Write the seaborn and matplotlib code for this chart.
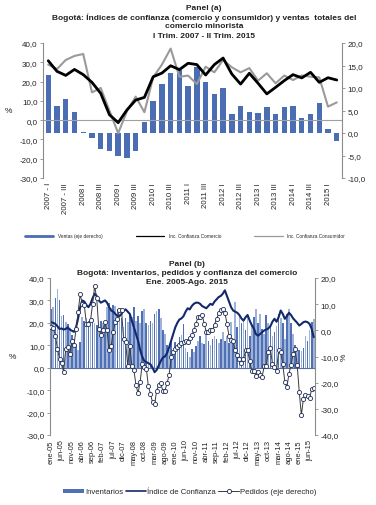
import matplotlib
matplotlib.use('Agg')
import matplotlib.pyplot as plt
import seaborn as sns
import pandas as pd
import numpy as np
from matplotlib.ticker import FuncFormatter, FixedLocator
from matplotlib.lines import Line2D
from matplotlib.patches import Patch

sns.set_theme(style='white')
plt.rcParams['font.family'] = ['Liberation Sans', 'DejaVu Sans']

# ---------------- Panel (a) data ----------------
quarters_a = ["2007 - I", "2007 - II", "2007 - III", "2007 - IV",
              "2008 I", "2008 II", "2008 III", "2008 IV",
              "2009 I", "2009 II", "2009 III", "2009 IV",
              "2010 I", "2010 II", "2010 III", "2010 IV",
              "2011 I", "2011 II", "2011 III", "2011 IV",
              "2012 I", "2012 II", "2012 III", "2012 IV",
              "2013 I", "2013 II", "2013 III", "2013 IV",
              "2014 I", "2014 II", "2014 III", "2014 IV",
              "2015 I", "2015 II"]
ventas = [12.9, 6.1, 7.5, 4.7, 0.3, -1.0, -3.6, -4.0, -5.0, -5.6, -4.0, 2.4,
          7.1, 10.9, 13.3, 14.0, 10.5, 14.6, 11.4, 8.6, 10.1, 4.3, 6.1, 4.7,
          4.4, 5.8, 4.3, 5.8, 6.0, 3.3, 4.3, 6.6, 0.9, -1.7]
conf_comercio = [30.8, 25.3, 23.2, 26.3, 23.6, 19.6, 13.9, 2.8, -1.3, 5.3, 10.4, 11.8,
                 22.5, 24.4, 28.2, 26.2, 29.5, 28.8, 23.4, 28.8, 32.2, 23.9, 18.7, 24.3,
                 19.1, 13.6, 17.0, 20.5, 23.6, 21.9, 24.8, 19.6, 22.0, 20.8]
conf_consumidor = [28.8, 26.5, 31.2, 33.3, 34.3, 14.4, 16.7, 4.9, -6.8, 4.6, 12.2, 4.1,
                   22.2, 28.8, 37.1, 22.5, 23.1, 18.7, 27.7, 24.8, 31.2, 27.4, 24.8, 27.0,
                   20.5, 24.3, 19.1, 23.1, 20.8, 23.2, 22.5, 22.2, 7.0, 9.2]

# ---------------- Panel (b) data ----------------
meses = ['ene', 'feb', 'mar', 'abr', 'may', 'jun', 'jul', 'ago', 'sep', 'oct', 'nov', 'dic']
anios = ['05', '06', '07', '08', '09', '10', '11', '12', '13', '14', '15']
months_b = [f"{m}-{a}" for a in anios for m in meses][:128]
tick_labels_b = ["ene-05", "jun-05", "nov-05", "abr-06", "sep-06", "feb-07", "jul-07",
                 "dic-07", "may-08", "oct-08", "mar-09", "ago-09", "ene-10", "jun-10",
                 "nov-10", "abr-11", "sep-11", "feb-12", "jul-12", "dic-12", "may-13",
                 "oct-13", "mar-14", "ago-14", "ene-15", "jun-15"]
inventarios = [26, 27, 31, 35, 30, 23, 23.5, 20.5, 19.5, 17.5, 14.5, 13,
               10, 8, 11.5, 22.5, 21, 22, 21, 19.5, 22, 20, 19, 17,
               21, 20, 19, 27, 29, 26.5, 28, 27.5, 26, 24, 22, 18,
               22, 20.5, 24, 22.5, 27, 21, 23, 20, 25.5, 26, 20, 19,
               21, 20, 24, 25.5, 26, 22, 17, 15, 10, 7.8, 11.5, 7.8,
               11.5, 7.8, 13.7, 14.5, 19.5, 9, 6.9, 4.6, 8.4, 7, 9.9, 12,
               14.3, 11, 10.6, 15.8, 12, 10, 13, 14, 12.8, 11, 12.8, 15.8,
               12, 14, 11, 20.3, 13, 29.3, 18, 24, 20, 21, 16.6, 23.3,
               14, 18.8, 22.5, 26.3, 20, 24, 17.3, 15, 23.3, 20, 18.8, 14,
               16, 18.8, 24, 22, 20, 12.8, 24, 26.3, 20, 15, 10, 8.4,
               8, 7.6, 9, 14.3, 12, 16.6, 20.3, 21.8]
indice_conf = [20.3, 20, 19.5, 18.5, 17.3, 17.5, 17, 17.3, 18, 17, 16.5, 16,
               18, 22, 27, 30, 29.5, 28, 27, 28.5, 31, 33, 32, 30,
               29, 29.5, 30, 29, 27, 25.5, 25, 24, 23, 23, 24, 25.5,
               26, 25, 24, 21, 18, 15, 12, 8, 5, 3, 2.5, 2,
               1.5, 0, -2, -1, 1, 3, 4.5, 5, 6.5, 9, 12, 15,
               18, 20, 21.5, 22, 23, 25, 26.5, 26, 27.5, 28.5, 29, 29,
               28.5, 27.5, 27, 26.5, 27.5, 28.5, 28, 29.5, 30.5, 31.5, 32, 33,
               34.5, 32, 29.5, 27, 25.5, 25, 24.5, 23.5, 22, 21, 22.5, 23.5,
               21, 19, 17.5, 15, 14.3, 15, 15.8, 16.6, 17, 17.5, 18.5, 20.5,
               21.8, 20.5, 22.5, 25.5, 24, 21.8, 23, 24.5, 23.5, 22, 21, 20,
               18.8, 19.5, 20.3, 20.6, 20.3, 19.5, 17.3, 13.6]
pedidos = [1.3, 1.0, -2.0, -7.0, -11.1, -12.4, -16.0, -7.0, -6.4, -9.1, -4.0, -5.5,
           0.4, 7.0, 13.7, 10.2, 9.5, 2.6, 2.6, 3.8, 9.9, 17.0, 12.2, 0.6,
           -1.9, 0.0, 3.2, 0.0, -7.7, -5.8, -0.6, 3.2, 4.5, 7.7, 7.7, -3.5,
           -4.5, -13.6, -6.0, -13.6, -15.3, -21.0, -24.0, -19.8, -12.9, -14.0, -14.6, -21.4,
           -24.3, -27.5, -28.3, -23.0, -21.0, -20.3, -23.2, -23.0, -20.3, -17.2, -10.3, -8.4,
           -7.2, -6.5, -5.5, -5.0, -4.5, -4.0, -4.5, -2.9, -1.9, 0.0, 2.5, 5.1,
           5.1, 6.0, 2.5, -0.6, -0.6, 0.0, 0.0, 2.2, 4.5, 6.5, 7.7, 8.1,
           6.8, 2.6, -2.2, -3.8, -4.2, -7.7, -9.6, -11.1, -12.4, -10.9, -7.7, -7.7,
           -11.9, -15.4, -15.4, -17.3, -16.0, -17.0, -17.9, -13.7, -13.7, -8.1, -6.8, -12.8,
           -14.1, -15.4, -7.7, -8.3, -13.0, -19.6, -21.8, -16.6, -13.2, -9.0, -7.0, -13.4,
           -23.7, -32.4, -26.2, -24.7, -25.2, -26.0, -22.4, -22.0]

fmt = FuncFormatter(lambda v, p: f"{v:.1f}".replace('.', ','))
TXT = '#222222'
SPINE = '#8c8c8c'
TFS = 6.0

fig = plt.figure(figsize=(3.76, 5.06), dpi=100)

def style_axes(ax_l, ax_r):
    for a in (ax_l, ax_r):
        for s in a.spines.values():
            s.set_visible(False)
    ax_l.spines['left'].set_visible(True)
    ax_l.spines['left'].set_color(SPINE)
    ax_l.spines['left'].set_linewidth(0.8)
    ax_r.spines['right'].set_visible(True)
    ax_r.spines['right'].set_color(SPINE)
    ax_r.spines['right'].set_linewidth(0.8)
    ax_l.tick_params(axis='y', which='both', left=True, right=False, length=2.5, width=0.6,
                     color=SPINE, labelsize=5.8, labelcolor=TXT, pad=1.5)
    ax_r.tick_params(axis='y', which='both', right=True, left=False, length=2.5, width=0.6,
                     color=SPINE, labelsize=5.8, labelcolor=TXT, pad=1.5)
    ax_l.yaxis.set_major_formatter(fmt)
    ax_r.yaxis.set_major_formatter(fmt)
    ax_l.grid(False); ax_r.grid(False)

# ================= Panel (a) =================
axA = fig.add_axes([43/376, 1 - 179/506, 299/376, 135/506])
axA2 = axA.twinx()
df_a = pd.DataFrame({'trim': quarters_a, 'ventas': ventas,
                     'comercio': conf_comercio, 'consumidor': conf_consumidor,
                     'pos': np.arange(len(quarters_a))})
sns.barplot(data=df_a, x='trim', y='ventas', ax=axA2, color='#4a6db3', width=0.62,
            saturation=1, order=quarters_a, linewidth=0, edgecolor='none')
axA2.set_ylim(-10, 20)
axA2.yaxis.set_major_locator(FixedLocator([-10, -5, 0, 5, 10, 15, 20]))

sns.lineplot(data=df_a, x='pos', y='consumidor', ax=axA, color='#9a9a9a', lw=1.5)
sns.lineplot(data=df_a, x='pos', y='comercio', ax=axA, color='#000000', lw=2.0)
axA.axhline(0, color='#a0a0a0', lw=0.8, zorder=0.5)
axA.set_ylim(-30, 40)
axA.yaxis.set_major_locator(FixedLocator(list(range(-30, 41, 10))))
axA.set_xlim(-0.6, len(quarters_a) - 0.4)
axA.set_zorder(axA2.get_zorder() + 1)
axA.patch.set_visible(False)
style_axes(axA, axA2)
axA.set_xticks(np.arange(0, len(quarters_a), 2))
axA.set_xticklabels(quarters_a[::2], rotation=90, fontsize=5.6, color=TXT)
axA.tick_params(axis='x', length=0, pad=3)
axA2.tick_params(axis='x', length=0, labelbottom=False)
axA.set_xlabel(''); axA2.set_xlabel('')
axA.set_ylabel('%', rotation=0, fontsize=6, color=TXT, labelpad=8, va='center')
axA2.set_ylabel('')

fig.text(204/376, 1 - 9/506, 'Panel (a)', ha='center', va='center',
         fontsize=TFS, fontweight='bold', color=TXT)
fig.text(204/376, 1 - 18/506,
         'Bogotá: Índices de confianza (comercio y consumidor) y ventas  totales del',
         ha='center', va='center', fontsize=TFS, fontweight='bold', color=TXT)
fig.text(204/376, 1 - 27/506, 'comercio minorista', ha='center', va='center',
         fontsize=TFS, fontweight='bold', color=TXT)
fig.text(204/376, 1 - 36/506, 'I Trim. 2007 - II Trim. 2015', ha='center', va='center',
         fontsize=TFS, fontweight='bold', color=TXT)

hA = [Line2D([], [], color='#4a6db3', lw=2.0),
      Line2D([], [], color='#000000', lw=0.9),
      Line2D([], [], color='#9a9a9a', lw=0.9)]
fig.legend(hA, ['Ventas (eje derecho)', 'Inc. Confianza Comercio', 'Inc. Confianza Consumidor'],
           loc='center', bbox_to_anchor=(185/376, 1 - 237/506), ncol=3, fontsize=3.4,
           frameon=False, handlelength=6, columnspacing=7, handletextpad=1.0)

# ================= Panel (b) =================
axB = fig.add_axes([50/376, 1 - 436/506, 265/376, 157/506])
axB2 = axB.twinx()
df_b = pd.DataFrame({'mes': months_b, 'inventarios': inventarios,
                     'indice': indice_conf, 'pedidos': pedidos,
                     'pos': np.arange(len(months_b))})
bar_pal = {m: ('#4f70b5' if i % 2 == 0 else '#9fb3da') for i, m in enumerate(months_b)}
sns.barplot(data=df_b, x='mes', y='inventarios', hue='mes', palette=bar_pal, legend=False,
            ax=axB, width=0.8, saturation=1, order=months_b, linewidth=0, edgecolor='none')
sns.lineplot(data=df_b, x='pos', y='indice', ax=axB, color='#13296b', lw=1.5)
axB.axhline(0, color='#5a6e9e', lw=0.8, zorder=0.5)
axB.set_ylim(-30, 40)
axB.yaxis.set_major_locator(FixedLocator(list(range(-30, 41, 10))))
axB.set_xlim(-0.6, len(months_b) - 0.4)

sns.lineplot(data=df_b, x='pos', y='pedidos', ax=axB2, color='#3a3a3a', lw=0.7,
             marker='o', markersize=3.0, markerfacecolor='white',
             markeredgecolor='#1e2d55', markeredgewidth=0.6)
axB2.set_ylim(-40, 20)
axB2.yaxis.set_major_locator(FixedLocator(list(range(-40, 21, 10))))
axB2.set_xlim(-0.6, len(months_b) - 0.4)
style_axes(axB, axB2)
axB.set_xticks(np.arange(0, len(months_b), 5))
axB.set_xticklabels(tick_labels_b, rotation=90, fontsize=5.4, color=TXT)
axB.tick_params(axis='x', length=0, pad=3)
axB2.tick_params(axis='x', length=0, labelbottom=False)
axB.set_xlabel(''); axB2.set_xlabel('')
axB.set_ylabel('%', rotation=0, fontsize=6, color=TXT, labelpad=10, va='center')
axB2.set_ylabel('%', rotation=90, fontsize=6, color=TXT, labelpad=4, va='center')

fig.text(187/376, 1 - 264/506, 'Panel (b)', ha='center', va='center',
         fontsize=TFS, fontweight='bold', color=TXT)
fig.text(187/376, 1 - 273.5/506, 'Bogotá: inventarios, pedidos y confianza del comercio',
         ha='center', va='center', fontsize=TFS, fontweight='bold', color=TXT)
fig.text(187/376, 1 - 282.5/506, 'Ene. 2005-Ago. 2015', ha='center', va='center',
         fontsize=TFS, fontweight='bold', color=TXT)

hB = [Patch(facecolor='#4f70b5', edgecolor='none'),
      Line2D([], [], color='#13296b', lw=1.2),
      Line2D([], [], color='#3a3a3a', lw=0.7, marker='o', markersize=3,
             markerfacecolor='white', markeredgecolor='#1e2d55', markeredgewidth=0.6)]
fig.legend(hB, ['Inventarios', 'Índice de Confianza', 'Pedidos (eje derecho)'],
           loc='center', bbox_to_anchor=(190/376, 1 - 493/506), ncol=3, fontsize=5.6,
           frameon=False, handlelength=2.6, handleheight=0.5, columnspacing=0.3,
           handletextpad=0.2)

fig.savefig('out.png', dpi=100)
